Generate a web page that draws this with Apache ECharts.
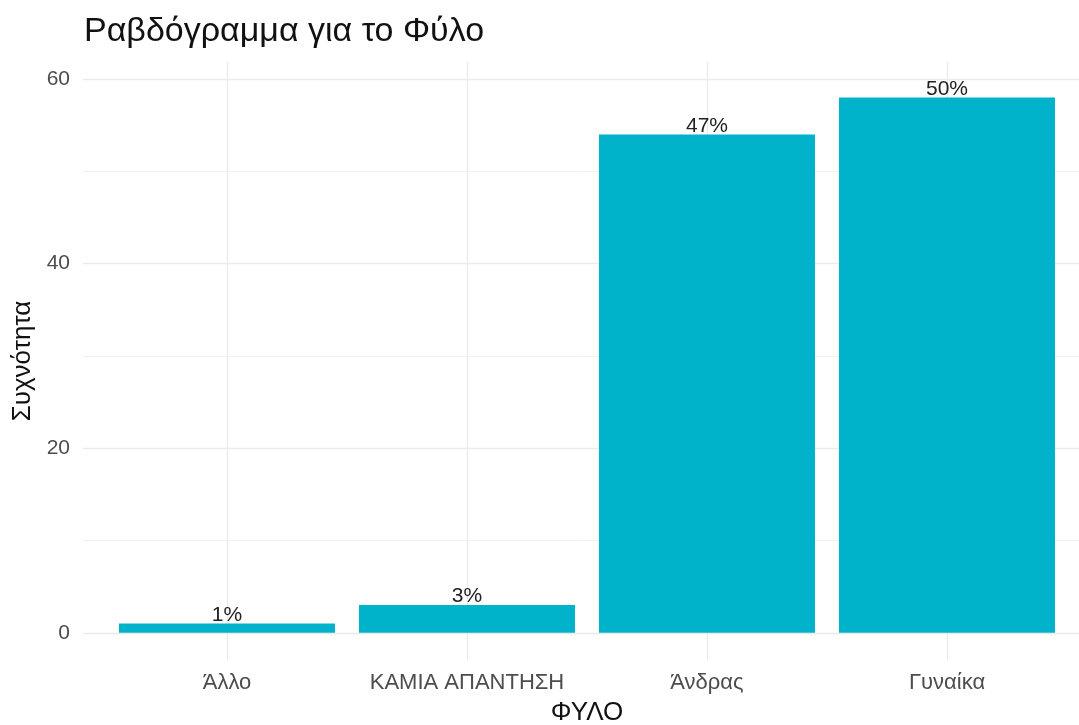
<!DOCTYPE html>
<html>
<head>
<meta charset="utf-8">
<script src="https://cdn.jsdelivr.net/npm/echarts@6/dist/echarts.min.js"></script>
<style>
  html, body { margin: 0; padding: 0; background: #fff; }
  #chart { width: 1079px; height: 725px; }
</style>
</head>
<body>
<div id="chart"></div>
<script>
// data
const categories = ['Άλλο', 'ΚΑΜΙΑ ΑΠΑΝΤΗΣΗ', 'Άνδρας', 'Γυναίκα']
const counts = [1, 3, 54, 58]
const pctLabels = ['1%', '3%', '47%', '50%']
const yMajorTicks = [0, 20, 40, 60]
const yMinorTicks = [10, 30, 50]

const font = '"Liberation Sans", Arial, sans-serif'
const gridColor = '#ebebeb'

const chart = echarts.init(document.getElementById('chart'))

const barData = counts.map((v, i) => ({
  value: [i + 1, v],
  label: { formatter: pctLabels[i] }
}))

chart.setOption({
  animation: false,
  textStyle: { fontFamily: font },
  title: {
    text: 'Ραβδόγραμμα για το Φύλο',
    left: 79,
    top: 10,
    textStyle: { fontFamily: font, fontSize: 34, fontWeight: 'normal', color: '#111' }
  },
  // panel runs past the right edge, like the cropped ggplot panel
  grid: { left: 83, width: 1008, top: 62, height: 598, containLabel: false, outerBoundsMode: 'none' },
  xAxis: {
    type: 'value',
    min: 0.4,
    max: 4.6,
    name: 'ΦΥΛΟ',
    nameLocation: 'middle',
    nameGap: 40,
    nameTextStyle: { fontFamily: font, fontSize: 26, color: '#111' },
    axisLine: { show: false },
    axisTick: { show: false, customValues: categories.map((c, i) => i + 1) },
    axisLabel: {
      customValues: categories.map((c, i) => i + 1),
      formatter: v => categories[Math.round(v) - 1] || '',
      margin: 12,
      fontSize: 22,
      color: '#4d4d4d',
      fontFamily: font
    },
    splitLine: { show: true, lineStyle: { color: gridColor, width: 1.3 } }
  },
  yAxis: [
    {
      type: 'value',
      min: -2.95,
      max: 61.85,
      name: 'Συχνότητα',
      nameLocation: 'middle',
      nameGap: 47,
      nameRotate: 90,
      nameTextStyle: { fontFamily: font, fontSize: 26, color: '#111' },
      axisLine: { show: false },
      axisTick: { show: false, customValues: yMajorTicks },
      axisLabel: {
        customValues: yMajorTicks,
        margin: 13,
        fontSize: 21,
        color: '#4d4d4d',
        fontFamily: font
      },
      splitLine: { show: true, lineStyle: { color: gridColor, width: 1.3 } }
    },
    {
      type: 'value',
      min: -2.95,
      max: 61.85,
      position: 'left',
      axisLine: { show: false },
      axisTick: { show: false, customValues: yMinorTicks },
      axisLabel: { show: false, customValues: yMinorTicks },
      splitLine: { show: true, lineStyle: { color: '#f0f0f0', width: 1 } }
    }
  ],
  series: [{
    type: 'bar',
    yAxisIndex: 0,
    data: barData,
    barWidth: 216,
    itemStyle: { color: '#00b2ca' },
    label: {
      show: true,
      position: 'top',
      distance: -2,
      fontSize: 21,
      color: '#222',
      fontFamily: font
    }
  }]
})
</script>
</body>
</html>
